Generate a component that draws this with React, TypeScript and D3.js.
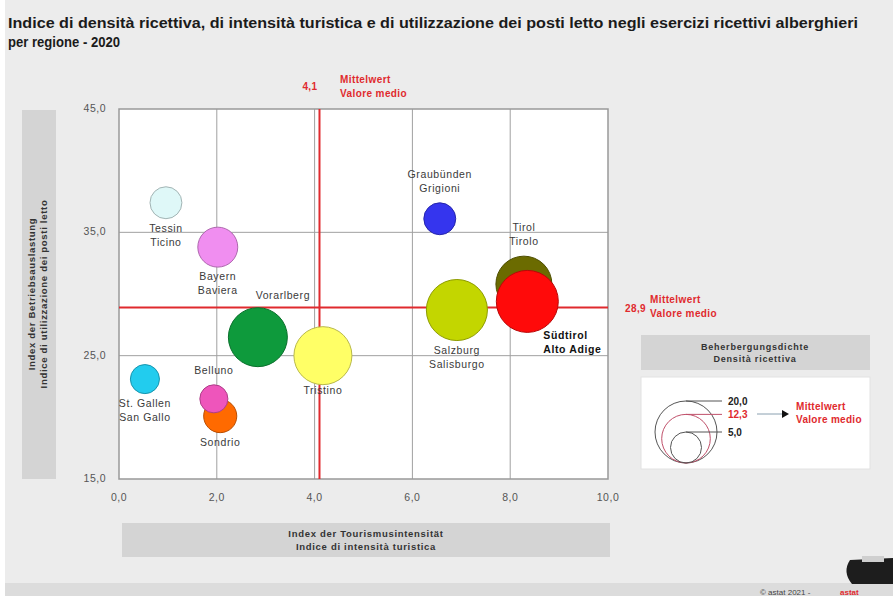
import * as d3 from 'd3'

// regions (German / Italian names)
const regionsDe = ['Tessin', 'Bayern', 'Vorarlberg', 'Tristino', 'Graubünden', 'Salzburg', 'Tirol', 'Südtirol', 'St. Gallen', 'Sondrio', 'Belluno']
const regionsIt = ['Ticino', 'Baviera', '', '', 'Grigioni', 'Salisburgo', 'Tirolo', 'Alto Adige', 'San Gallo', '', '']
// x: tourism intensity index, y: bed utilisation index, size: accommodation density
const tourismIntensity = [0.96, 2.02, 2.84, 4.17, 6.56, 6.91, 8.28, 8.35, 0.53, 2.07, 1.94]
const bedUtilisation = [37.4, 33.8, 26.5, 25.0, 36.1, 28.7, 30.8, 29.4, 23.1, 20.1, 21.5]
const bedDensity = [5.3, 8.3, 18.1, 17.5, 5.3, 19.4, 16.3, 20.0, 4.4, 5.7, 4.1]
const colours = ['#dff8f8', '#f08ef0', '#0e9a3c', '#ffff66', '#3535ee', '#c3d600', '#6b6b00', '#ff0a0a', '#22ccee', '#ff6a00', '#ee55bb']
const labelPlace = ['below', 'below', 'aboveRight', 'below', 'above', 'below', 'above', 'belowRight', 'below', 'below', 'above']

const xTicks = [0, 2, 4, 6, 8, 10]
const yTicks = [15, 25, 35, 45]
const meanX = 4.1
const meanY = 28.9
const legendSizes = [20.0, 12.3, 5.0]
const meanDensity = 12.3

const W = 893
const H = 596
const plot = { left: 119, right: 608, top: 109, bottom: 479 }
const font = 'Liberation Sans, Arial, sans-serif'
const red = '#e02a2e'
const fmt = (v: number) => v.toFixed(1).replace('.', ',')

export default function App() {
  const x = d3.scaleLinear().domain([0, 10]).range([plot.left, plot.right])
  const y = d3.scaleLinear().domain([15, 45]).range([plot.bottom, plot.top])
  const r = d3.scaleSqrt().domain([0, 20]).range([0, 31])

  const labelFor = (i: number) => {
    const cx = x(tourismIntensity[i])
    const cy = y(bedUtilisation[i])
    const rr = r(bedDensity[i])
    const lines = [regionsDe[i], regionsIt[i]].filter(s => s)
    const place = labelPlace[i]
    let lx = cx
    let ly = cy + rr + 13
    let anchor = 'middle'
    let weight = 'normal'
    let fill = '#3a3a3a'
    if (place === 'above') ly = cy - rr - 11 - (lines.length - 1) * 14
    if (place === 'aboveRight') { lx = cx + 25; ly = cy - rr - 9 }
    if (place === 'belowRight') { lx = cx + 16; ly = cy + rr + 7; anchor = 'start'; weight = 'bold'; fill = '#111' }
    if (regionsDe[i] === 'Tristino') ly = cy + rr + 9
    return (
      <text key={'l' + i} x={lx} y={ly} textAnchor={anchor} fontSize={10.5} letterSpacing={0.6} fontWeight={weight} fill={fill} fontFamily={font}>
        {lines.map((s, j) => <tspan key={j} x={lx} dy={j === 0 ? 0 : 14}>{s}</tspan>)}
      </text>
    )
  }

  const legCx = 686
  const legBottom = 463

  return (
    <div style={{ position: 'absolute', left: 0, top: 0 }}>
      <svg width={W} height={H} style={{ display: 'block' }}>
        <rect x={0} y={0} width={W} height={H} fill="#fff" />
        <rect x={5} y={0} width={W - 5} height={H} fill="#ececec" />
        <rect x={5} y={583} width={W - 5} height={13} fill="#dcdcdc" />

        {/* title */}
        <text x={8} y={28} fontSize={14.5} fontWeight="bold" fill="#1b1b1b" fontFamily={font} textLength={850} lengthAdjust="spacingAndGlyphs">
          Indice di densità ricettiva, di intensità turistica e di utilizzazione dei posti letto negli esercizi ricettivi alberghieri
        </text>
        <text x={8} y={47} fontSize={14.5} fontWeight="bold" fill="#1b1b1b" fontFamily={font} textLength={112} lengthAdjust="spacingAndGlyphs">per regione - 2020</text>

        {/* axis title boxes */}
        <rect x={22} y={110} width={34} height={369} fill="#d4d4d4" />
        <text transform="translate(35,294) rotate(-90)" textAnchor="middle" fontSize={9.5} letterSpacing={0.7} fontWeight="bold" fill="#333" fontFamily={font}>
          <tspan x={0} dy={0}>Index der Betriebsauslastung</tspan>
          <tspan x={0} dy={12}>Indice di utilizzazione dei posti letto</tspan>
        </text>
        <rect x={122} y={523} width={488} height={34} fill="#d4d4d4" />
        <text x={366} y={537} textAnchor="middle" fontSize={9.5} letterSpacing={0.7} fontWeight="bold" fill="#333" fontFamily={font}>
          <tspan x={366} dy={0}>Index der Tourismusintensität</tspan>
          <tspan x={366} dy={13}>Indice di intensità turistica</tspan>
        </text>

        {/* plot area */}
        <rect x={plot.left} y={plot.top} width={plot.right - plot.left} height={plot.bottom - plot.top} fill="#fff" />
        {xTicks.slice(1, -1).map(t => (
          <line key={'gx' + t} x1={x(t)} x2={x(t)} y1={plot.top} y2={plot.bottom} stroke="#a0a0a0" strokeWidth={1} />
        ))}
        {yTicks.slice(1, -1).map(t => (
          <line key={'gy' + t} x1={plot.left} x2={plot.right} y1={y(t)} y2={y(t)} stroke="#a0a0a0" strokeWidth={1} />
        ))}
        <rect x={plot.left} y={plot.top} width={plot.right - plot.left} height={plot.bottom - plot.top} fill="none" stroke="#999" strokeWidth={1.5} />

        {xTicks.map(t => (
          <text key={'tx' + t} x={x(t)} y={501} textAnchor="middle" fontSize={10.5} letterSpacing={0.5} fill="#555" fontFamily={font}>{fmt(t)}</text>
        ))}
        {yTicks.map(t => (
          <text key={'ty' + t} x={106} y={y(t) + 3} textAnchor="end" fontSize={10.5} letterSpacing={0.5} fill="#555" fontFamily={font}>{fmt(t)}</text>
        ))}

        {/* mean lines */}
        <line x1={plot.left} x2={plot.right} y1={y(meanY)} y2={y(meanY)} stroke={red} strokeWidth={2} />
        <line x1={x(meanX)} x2={x(meanX)} y1={plot.top} y2={plot.bottom} stroke={red} strokeWidth={2} />

        {/* bubbles */}
        {regionsDe.map((d, i) => (
          <circle key={d} cx={x(tourismIntensity[i])} cy={y(bedUtilisation[i])} r={r(bedDensity[i])}
            fill={colours[i]} stroke={d3.color(colours[i])!.darker(0.9).formatHex()} strokeWidth={1} />
        ))}
        {regionsDe.map((_, i) => labelFor(i))}

        {/* mean annotations */}
        <g fontFamily={font} fontWeight="bold" fill={red} fontSize={10} letterSpacing={0.4}>
          <text x={x(meanX) - 2} y={90} textAnchor="end">{fmt(meanX)}</text>
          <text x={340} y={83}>Mittelwert</text>
          <text x={340} y={97}>Valore medio</text>
          <text x={625} y={312}>{fmt(meanY)}</text>
          <text x={650} y={303}>Mittelwert</text>
          <text x={650} y={317}>Valore medio</text>
        </g>

        {/* size legend */}
        <rect x={641} y={335} width={229} height={35} fill="#d4d4d4" />
        <text x={755} y={350} textAnchor="middle" fontSize={9} letterSpacing={0.8} fontWeight="bold" fill="#333" fontFamily={font}>
          <tspan x={755} dy={0}>Beherbergungsdichte</tspan>
          <tspan x={755} dy={12}>Densità ricettiva</tspan>
        </text>
        <rect x={641} y={377} width={229} height={92} fill="#fff" stroke="#e2e2e2" />
        {legendSizes.map(v => {
          const rr = r(v)
          const c = v === meanDensity ? '#c0506a' : '#555'
          return (
            <g key={'lg' + v}>
              <circle cx={legCx} cy={legBottom - rr} r={rr} fill="none" stroke={c} strokeWidth={1} />
              <line x1={legCx} x2={722} y1={legBottom - 2 * rr} y2={legBottom - 2 * rr} stroke={c} strokeWidth={1} />
              <text x={728} y={legBottom - 2 * rr + 4} fontSize={10} fontWeight="bold" fill={v === meanDensity ? red : '#222'} fontFamily={font}>{fmt(v)}</text>
            </g>
          )
        })}
        <line x1={757} x2={782} y1={414} y2={414} stroke="#8aa0b0" strokeWidth={1} />
        <path d="M782,410 L789,414 L782,418 Z" fill="#111" />
        <text x={796} y={410} fontSize={10} letterSpacing={0.3} fontWeight="bold" fill={red} fontFamily={font}>
          <tspan x={796} dy={0}>Mittelwert</tspan>
          <tspan x={796} dy={13}>Valore medio</tspan>
        </text>

        {/* footer */}
        <path d="M850,560 L893,558 L893,584 L852,584 Q842,572 850,560 Z" fill="#1d1d1d" />
        <rect x={862} y={556} width={22} height={6} fill="#cfcfcf" />
        <text x={760} y={595} fontSize={8} fill="#444" fontFamily={font}>© astat 2021 - </text>
        <text x={840} y={595} fontSize={8} fontWeight="bold" fill={red} fontFamily={font}>astat</text>
      </svg>
    </div>
  )
}
